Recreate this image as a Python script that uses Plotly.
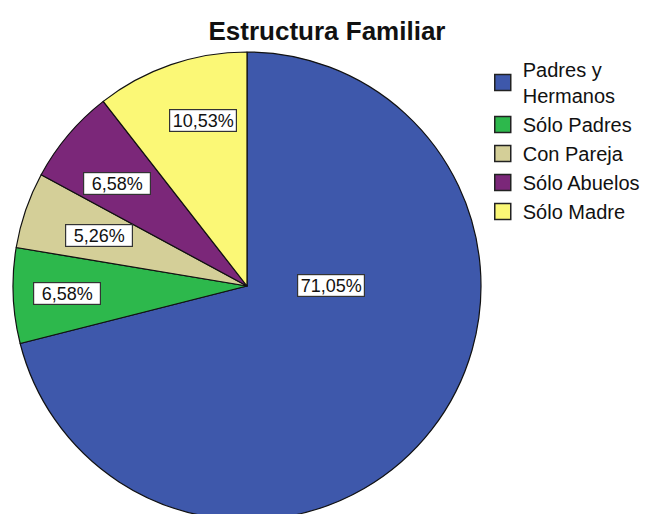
"""
Estructura Familiar - pie chart with boxed percentage labels.
"""

import math
import plotly.graph_objects as go

# ---------- data ----------
categories = ["Padres y Hermanos", "Sólo Padres", "Con Pareja", "Sólo Abuelos", "Sólo Madre"]
legend_names = ["Padres y<br>Hermanos", "Sólo Padres", "Con Pareja", "Sólo Abuelos", "Sólo Madre"]
percentages = [71.05, 6.58, 5.26, 6.58, 10.53]

# ---------- style ----------
colors = ["#3E58AB", "#2DB84C", "#D4CF98", "#7B2779", "#FBF876"]
W, H = 648, 524
pie_px = dict(x0=13, x1=481, y0=52, y1=520)          # pie box in pixels
label_radius = [0.36, 0.77, 0.67, 0.705, 0.73]        # fraction of radius
label_angle_shift = [-38, 0, 0, -2, 4]                # degrees, clockwise

fig = go.Figure()

fig.add_trace(go.Pie(
    labels=categories,
    values=percentages,
    sort=False,
    direction="clockwise",
    rotation=0,
    textinfo="none",
    hoverinfo="label+percent",
    marker=dict(colors=colors, line=dict(color="#111111", width=1.2)),
    showlegend=False,
    domain=dict(
        x=[pie_px["x0"] / W, pie_px["x1"] / W],
        y=[1 - pie_px["y1"] / H, 1 - pie_px["y0"] / H],
    ),
))

# legend entries with bigger square swatches
for name, col in zip(legend_names, colors):
    fig.add_trace(go.Scatter(
        x=[None], y=[None], mode="markers", name=name,
        marker=dict(symbol="square", size=16, color=col,
                    line=dict(color="#222222", width=1.5)),
    ))

# boxed percentage labels placed on each slice
cx = (pie_px["x0"] + pie_px["x1"]) / 2
cy = (pie_px["y0"] + pie_px["y1"]) / 2
R = (pie_px["x1"] - pie_px["x0"]) / 2
total = sum(percentages)
start = 0.0
for i, v in enumerate(percentages):
    span = v / total * 360
    theta = math.radians(start + span / 2 + label_angle_shift[i])
    start += span
    px_x = cx + label_radius[i] * R * math.sin(theta)
    px_y = cy - label_radius[i] * R * math.cos(theta)
    fig.add_annotation(
        x=px_x / W, y=1 - px_y / H, xref="paper", yref="paper",
        xanchor="center", yanchor="middle",
        text=f"{v:.2f}%".replace(".", ","),
        showarrow=False,
        width=64, height=19,
        font=dict(family="Liberation Sans, Arial, sans-serif", size=18, color="#111111"),
        bgcolor="white", bordercolor="#333333", borderwidth=1.2, borderpad=1,
    )

fig.update_layout(
    width=W, height=H,
    margin=dict(l=0, r=0, t=0, b=0),
    paper_bgcolor="white", plot_bgcolor="white",
    title=dict(
        text="<b>Estructura Familiar</b>",
        x=327 / W, xanchor="center", xref="container",
        y=1 - 31 / H, yanchor="middle", yref="container",
        font=dict(family="Liberation Sans, Arial, sans-serif", size=26, color="#111111"),
    ),
    xaxis=dict(visible=False), yaxis=dict(visible=False),
    legend=dict(
        x=0.745, y=1 - 50 / H, xanchor="left", yanchor="top",
        font=dict(family="Liberation Sans, Arial, sans-serif", size=20, color="#111111"),
        bgcolor="rgba(0,0,0,0)",
    ),
)

# drop the default page margin so the figure sits at the window's corner
fig.write_html("out.html", config={"displayModeBar": False},
               post_script="document.body.style.margin='0';")
